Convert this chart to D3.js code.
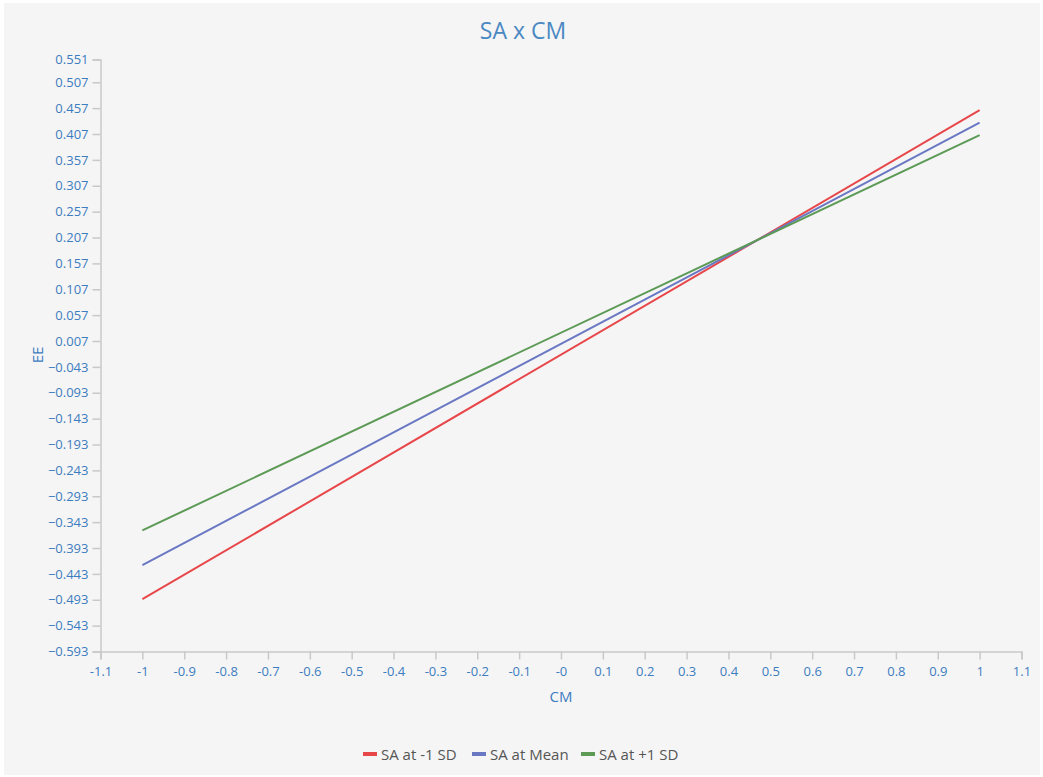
<!DOCTYPE html>
<html>
<head>
<meta charset="utf-8">
<script src="https://cdn.jsdelivr.net/npm/d3@7"></script>
<style>
  html, body { margin: 0; padding: 0; background: #ffffff; }
  svg { display: block; font-family: "Open Sans", "Noto Sans", sans-serif; }
</style>
</head>
<body>
<svg id="chart" width="1043" height="777"></svg>
<script>
// Simple slopes of EE on CM at three levels of SA
const seriesNames = ["SA at -1 SD", "SA at Mean", "SA at +1 SD"];
const seriesColors = ["#e8474a", "#6a78c4", "#5c9a56"];
const cmValues = [-1, 1];
const eeLow = [-0.492, 0.453];
const eeMean = [-0.426, 0.429];
const eeHigh = [-0.359, 0.405];

const yTickValues = [0.551, 0.507, 0.457, 0.407, 0.357, 0.307, 0.257, 0.207, 0.157, 0.107, 0.057, 0.007,
  -0.043, -0.093, -0.143, -0.193, -0.243, -0.293, -0.343, -0.393, -0.443, -0.493, -0.543, -0.593];
const xTickValues = [-1.1, -1, -0.9, -0.8, -0.7, -0.6, -0.5, -0.4, -0.3, -0.2, -0.1, 0,
  0.1, 0.2, 0.3, 0.4, 0.5, 0.6, 0.7, 0.8, 0.9, 1, 1.1];
const xTickLabels = ["-1.1", "-1", "-0.9", "-0.8", "-0.7", "-0.6", "-0.5", "-0.4", "-0.3", "-0.2", "-0.1", "-0",
  "0.1", "0.2", "0.3", "0.4", "0.5", "0.6", "0.7", "0.8", "0.9", "1", "1.1"];

const svg = d3.select("#chart");
const W = 1043, H = 777;
const axisColor = "#c9c9c9";
const labelColor = "#3d7dbf";

// panel background
svg.append("rect").attr("x", 4).attr("y", 3).attr("width", W - 7).attr("height", H - 5)
  .attr("fill", "#f5f5f5");

const x = d3.scaleLinear().domain([-1.1, 1.1]).range([100.5, 1021.5]);
const y = d3.scaleLinear().domain([-0.593, 0.551]).range([651.5, 59.5]);

// title
svg.append("text").attr("x", 523).attr("y", 39).attr("text-anchor", "middle")
  .attr("fill", "#4a88c2").attr("font-size", 23).text("SA x CM");

// y axis
const yAxis = d3.axisLeft(y).tickValues(yTickValues).tickFormat(d => d3.format(".3f")(d)).tickSizeOuter(0).tickSize(8).tickPadding(4);
const gy = svg.append("g").attr("transform", "translate(100.5,0)").call(yAxis);
gy.select(".domain").attr("stroke", axisColor).attr("stroke-width", 1.5);
gy.selectAll(".tick line").attr("stroke", axisColor).attr("stroke-width", 1.5);
gy.selectAll(".tick text").attr("fill", labelColor).attr("font-size", 13).attr("font-family", "Open Sans, sans-serif");

// x axis
const xAxis = d3.axisBottom(x).tickValues(xTickValues).tickFormat((d, i) => xTickLabels[i]).tickSizeOuter(0).tickSize(8).tickPadding(7);
const gx = svg.append("g").attr("transform", "translate(0,651.5)").call(xAxis);
gx.select(".domain").attr("stroke", axisColor).attr("stroke-width", 1.5);
gx.selectAll(".tick line").attr("stroke", axisColor).attr("stroke-width", 1.5);
gx.selectAll(".tick text").attr("fill", labelColor).attr("font-size", 13).attr("font-family", "Open Sans, sans-serif");

// axis titles
svg.append("text").attr("x", 561).attr("y", 702).attr("text-anchor", "middle")
  .attr("fill", labelColor).attr("font-size", 15).text("CM");
svg.append("text").attr("transform", "translate(43,355) rotate(-90)").attr("text-anchor", "middle")
  .attr("fill", labelColor).attr("font-size", 15).text("EE");

// lines
const series = [eeLow, eeMean, eeHigh];
const line = d3.line().x((d, i) => x(cmValues[i])).y(d => y(d));
series.forEach((vals, k) => {
  svg.append("path").datum(vals).attr("d", line)
    .attr("fill", "none").attr("stroke", seriesColors[k]).attr("stroke-width", 2);
});

// legend
const legendX = [363, 472, 581];
const lg = svg.append("g");
seriesNames.forEach((name, k) => {
  const lx = legendX[k];
  lg.append("rect").attr("x", lx).attr("y", 752).attr("width", 14).attr("height", 4).attr("fill", seriesColors[k]);
  lg.append("text").attr("x", lx + 18).attr("y", 759.5).attr("fill", "#555").attr("font-size", 15).text(name);
});
</script>
</body>
</html>
